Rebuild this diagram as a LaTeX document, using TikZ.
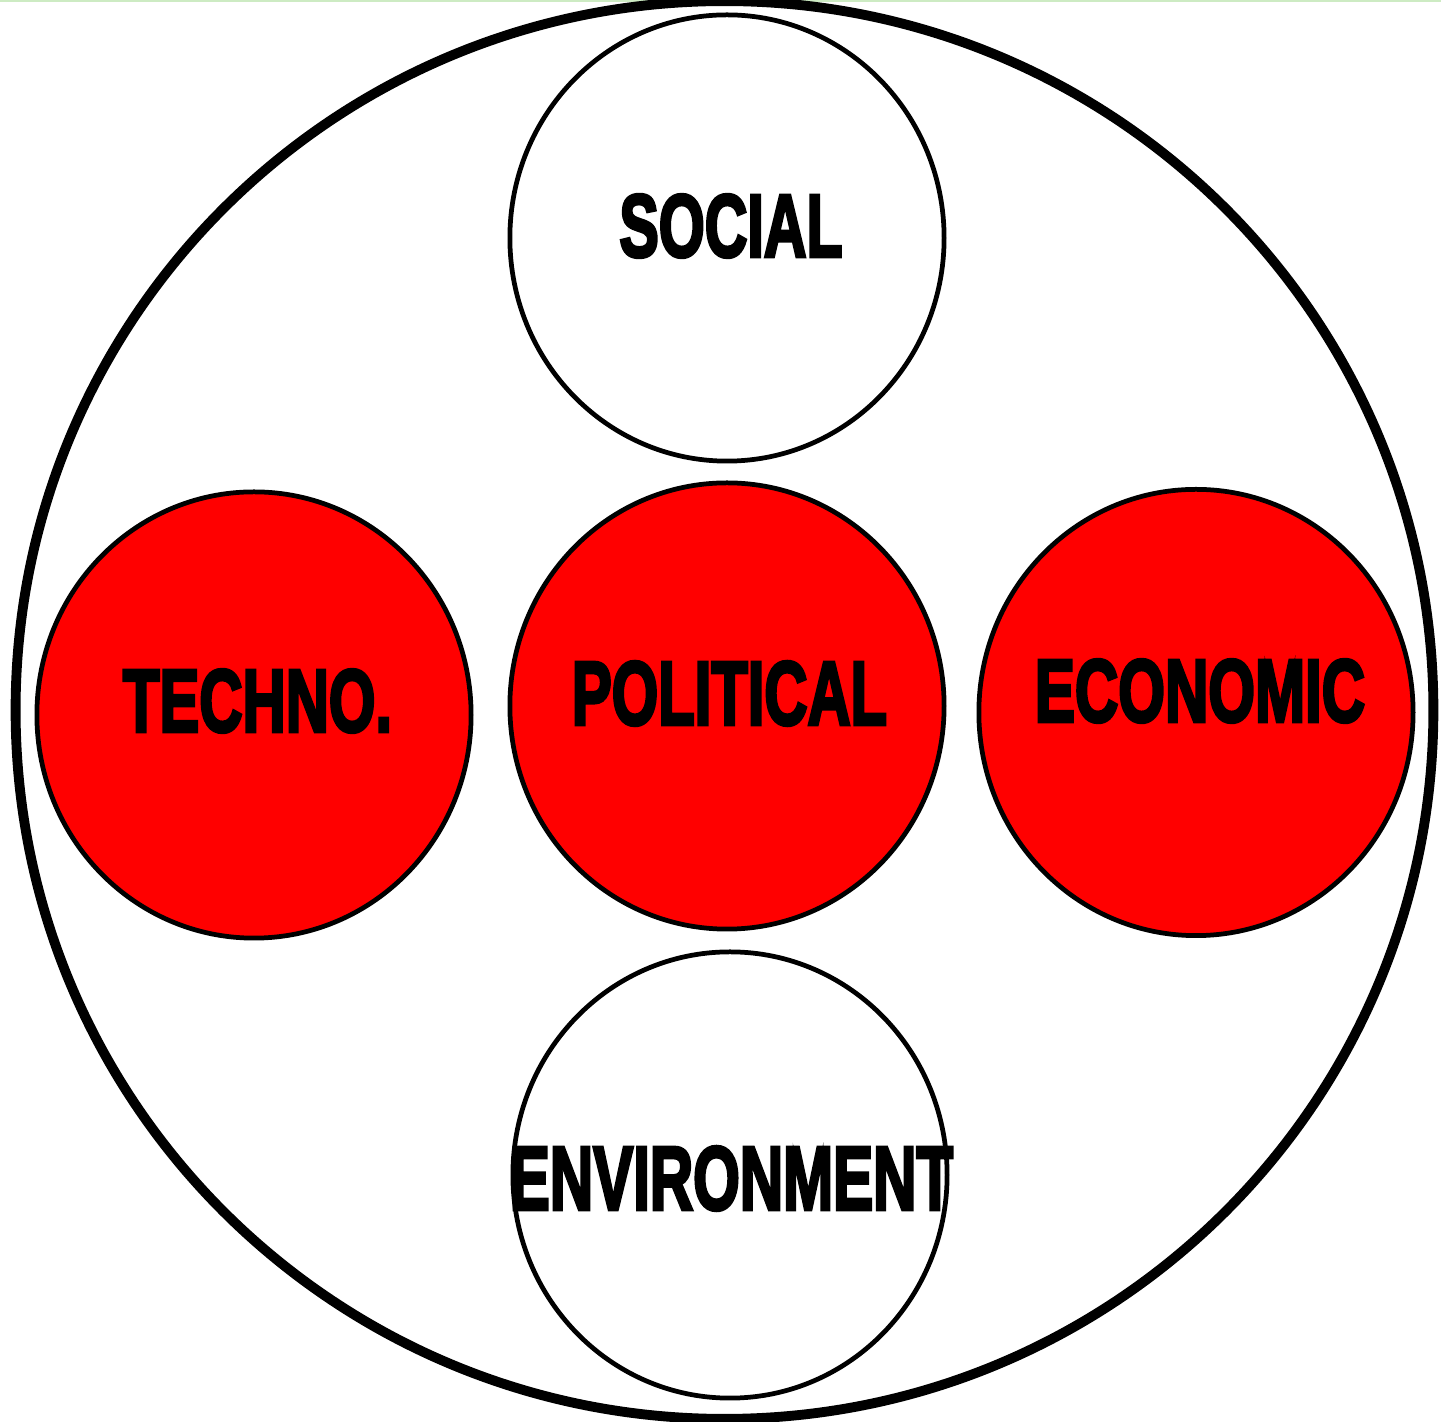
\documentclass[tikz,border=0pt]{standalone}
\usepackage{fontspec}
\usepackage{graphicx}
\usetikzlibrary{shapes.geometric}
\newfontfamily\impactfont{Liberation Sans Bold}[FakeBold=4]
\definecolor{fillred}{RGB}{255,0,0}
\definecolor{topgreen}{RGB}{205,235,195}
\begin{document}
\begin{tikzpicture}[x=0.01cm,y=-0.01cm,
  outerring/.style={draw=black,line width=2.8pt,circle,minimum size=14.17cm,inner sep=0pt},
  factor/.style={draw=black,line width=1.35pt,ellipse,inner sep=0pt,minimum width=4.34cm,minimum height=4.46cm},
  redfactor/.style={factor,fill=fillred},
  lbl/.style={inner sep=0pt,font=\impactfont}]
\useasboundingbox (0,0) rectangle (1441,1422);
\fill[white] (0,0) rectangle (1441,1422);
\draw[topgreen,line width=0.6pt] (0,0.5) -- (1441,0.5);
\node[outerring] (outer) at (724.5,710) {};
\node[factor] (social) at (727,238) {};
\node[redfactor] (techno) at (254,715) {};
\node[redfactor] (political) at (727,706) {};
\node[redfactor] (economic) at (1196,712.5) {};
\node[factor] (environment) at (730,1175) {};
\node[lbl] (tsocial) at (731,226) {\resizebox{2.23cm}{0.62cm}{SOCIAL}};
\node[lbl] (ttechno) at (257.5,701) {\resizebox{2.69cm}{0.62cm}{TECHNO.}};
\node[lbl] (tpolitical) at (729.5,693.5) {\resizebox{3.15cm}{0.63cm}{POLITICAL}};
\node[lbl] (teconomic) at (1200,691) {\resizebox{3.30cm}{0.62cm}{ECONOMIC}};
\node[lbl] (tenvironment) at (731.5,1178.5) {\resizebox{4.43cm}{0.63cm}{ENVIRONMENT}};
\end{tikzpicture}
\end{document}
